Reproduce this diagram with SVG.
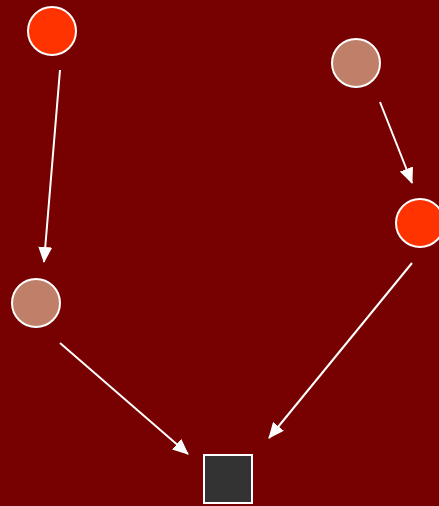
<svg xmlns="http://www.w3.org/2000/svg" width="439" height="506" viewBox="0 0 439 506">
<style>
.edge{stroke:#fff;stroke-width:2;fill:none}
.node{stroke:#fff;stroke-width:2}
.hot{fill:#ff3300}
.warm{fill:#c07f68}
.box{fill:#333}
</style>
<defs>
<marker id="ah" viewBox="0 0 16 14" refX="15" refY="7" markerWidth="16" markerHeight="14" markerUnits="userSpaceOnUse" orient="auto">
<path d="M0,0 L16,7 L0,14 z" fill="#fff"/>
</marker>
</defs>
<rect width="439" height="506" fill="#770000"/>
<g id="connectors">
<line class="edge" x1="60" y1="70" x2="44" y2="262" marker-end="url(#ah)"/>
<line class="edge" x1="380" y1="102" x2="412" y2="183" marker-end="url(#ah)"/>
<line class="edge" x1="412" y1="263" x2="269" y2="438" marker-end="url(#ah)"/>
<line class="edge" x1="60" y1="343" x2="188" y2="454" marker-end="url(#ah)"/>
</g>
<g id="n1"><circle class="node hot" cx="52" cy="31" r="24"/></g>
<g id="n2"><circle class="node warm" cx="356" cy="63" r="24"/></g>
<g id="n3"><circle class="node hot" cx="420" cy="223" r="24"/></g>
<g id="n4"><circle class="node warm" cx="36" cy="303" r="24"/></g>
<g id="n5"><rect class="node box" x="204" y="455" width="48" height="48"/></g>
</svg>
